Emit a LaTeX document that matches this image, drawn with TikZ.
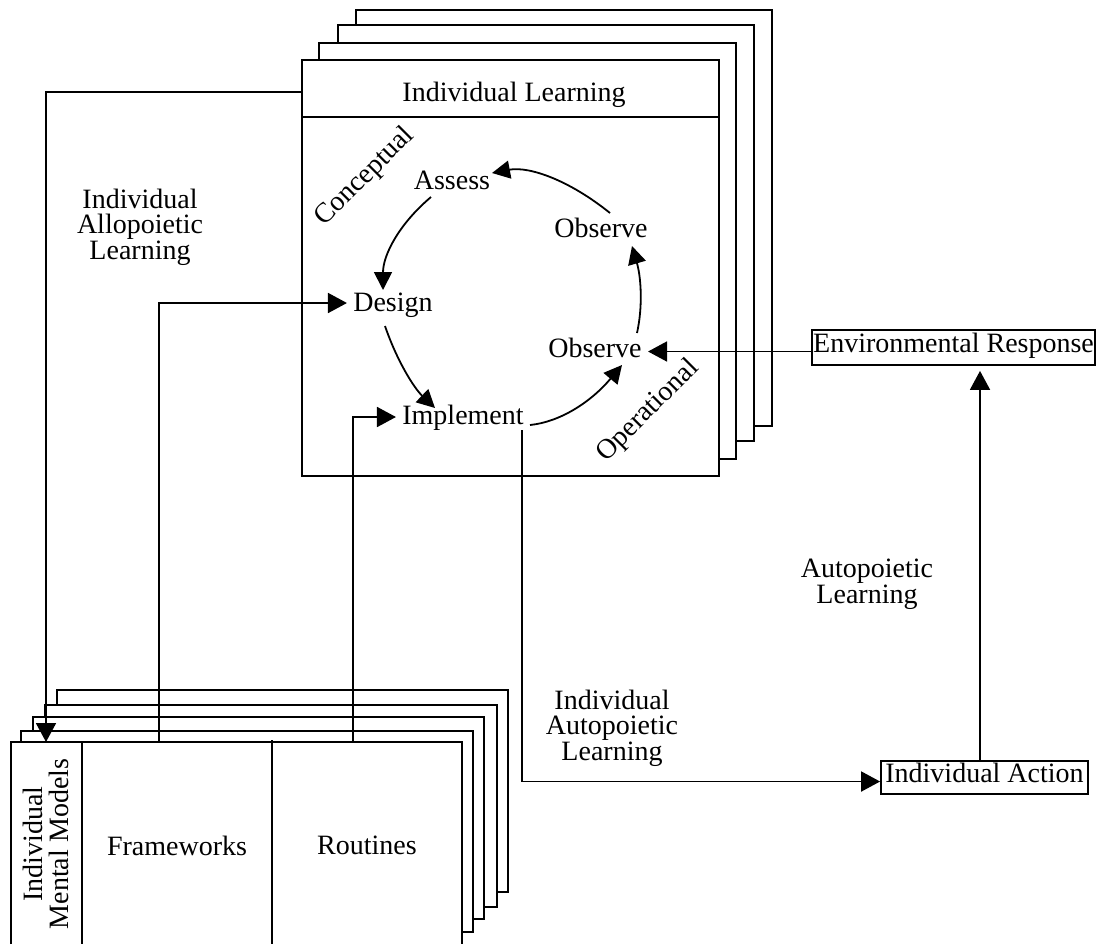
\documentclass[tikz,border=0pt]{standalone}
\usepackage{fontspec}
\setmainfont{Liberation Serif}
\usetikzlibrary{arrows.meta}
\begin{document}
\begin{tikzpicture}[x=0.5pt,y=-0.5pt,
  every node/.style={font=\fontsize{14}{12.75}\selectfont, align=center},
  sheet/.style={draw, fill=white, line width=1pt},
  rule/.style={line width=1pt},
  arr/.style={line width=0.9pt, -{Triangle[length=9.5pt,width=10pt]}},
  arc/.style={line width=0.9pt, -{Triangle[length=9pt,width=9pt]}},
  stage/.style={inner sep=3pt, text height=0.7em, text depth=0.2em},
  label/.style={inner sep=0pt},
  tag/.style={draw, line width=0.9pt, inner sep=0pt, text height=0.7em, text depth=0.2em}
]
\useasboundingbox (0,0) rectangle (1102,944);

% ---- Individual Learning: stack of sheets ----
\draw[sheet] (356,10) rectangle (772,426);
\draw[sheet] (338,25) rectangle (754,441);
\draw[sheet] (319,43) rectangle (736,459);
\draw[sheet] (302,60) rectangle (719,476);
\draw[rule] (302,117) -- (719,117);
\node[label] (title) at (514,95) {Individual Learning};

% ---- Individual Mental Models: stack of sheets ----
\draw[sheet] (57,690) rectangle (508,892);
\draw[sheet] (45,705) rectangle (497,907);
\draw[sheet] (33,717) rectangle (484,919);
\draw[sheet] (21,731) rectangle (473,932);
\fill[white] (11,742) rectangle (462,944);
\draw[rule] (11,944) -- (11,742) -- (462,742) -- (462,944);
\draw[rule] (82,742) -- (82,944);
\draw[rule] (272,740) -- (272,944);
\node[label, rotate=90] (imm) at (46,844) {Individual\\Mental Models};
\node[label] (frame) at (177,846) {Frameworks};
\node[label] (rout) at (367,845) {Routines};

% ---- learning cycle ----
\node[stage] (assess) at (452,184) {Assess};
\node[stage] (obs2) at (601,232) {Observe};
\node[stage] (design) at (393,306) {Design};
\node[stage] (obs1) at (595,352) {Observe};
\node[stage] (impl) at (463,419) {Implement};
\node[label, rotate=45] (concept) at (365,177) {Conceptual};
\node[label, rotate=45] (oper) at (648,411) {Operational};

\coordinate (a1) at (431,197);  \coordinate (d0) at (383,290);
\coordinate (d1) at (385,326);  \coordinate (i0) at (435,408);
\coordinate (i1) at (530,425);  \coordinate (o0) at (622,365);
\coordinate (o1) at (637,333);  \coordinate (p0) at (632,246);
\coordinate (p1) at (610,213);  \coordinate (a0) at (492,173);

\draw[arc] (a1) .. controls (399,224) and (383,255) .. (d0);
\draw[arc] (d1) .. controls (397,361) and (414,388) .. (i0);
\draw[arc] (i1) .. controls (560,422) and (591,402) .. (o0);
\draw[arc] (o1) .. controls (643,306) and (641,277) .. (p0);
\draw[arc] (p1) .. controls (569,180) and (529,166) .. (a0);

% ---- outside boxes ----
\node[tag, minimum width=141.5pt, minimum height=17.5pt] (env) at (953.5,347.5) {Environmental Response};
\node[tag, minimum width=103.5pt, minimum height=16.75pt] (action) at (984.5,777.5) {Individual Action};

% ---- free labels ----
\node[label] (allo) at (140,227) {Individual\\Allopoietic\\Learning};
\node[label] (auto) at (867,584) {Autopoietic\\Learning};
\node[label] (iauto) at (612,728) {Individual\\Autopoietic\\Learning};

% ---- connectors ----
\coordinate (ilW) at (302,92);
\coordinate (mmA) at (46,742);
\coordinate (mmF) at (159,742);
\coordinate (mmR) at (353,742);
\coordinate (imD) at (522,430);
\coordinate (acT) at ([xshift=-2.25pt]action.north);

\draw[arr] (ilW) -| (mmA);
\draw[arr] (mmF) |- ([yshift=1.5pt]design.west);
\draw[arr] (mmR) |- ([yshift=1pt]impl.west);
\draw[arr] (imD) |- ([yshift=-2pt]action.west);
\draw[arr] (acT) -- ([yshift=-2.5pt]acT |- env.south);
\draw[arr] ([yshift=-2pt]env.west) -- ([yshift=-2pt]env.west -| obs1.east);
\end{tikzpicture}
\end{document}
